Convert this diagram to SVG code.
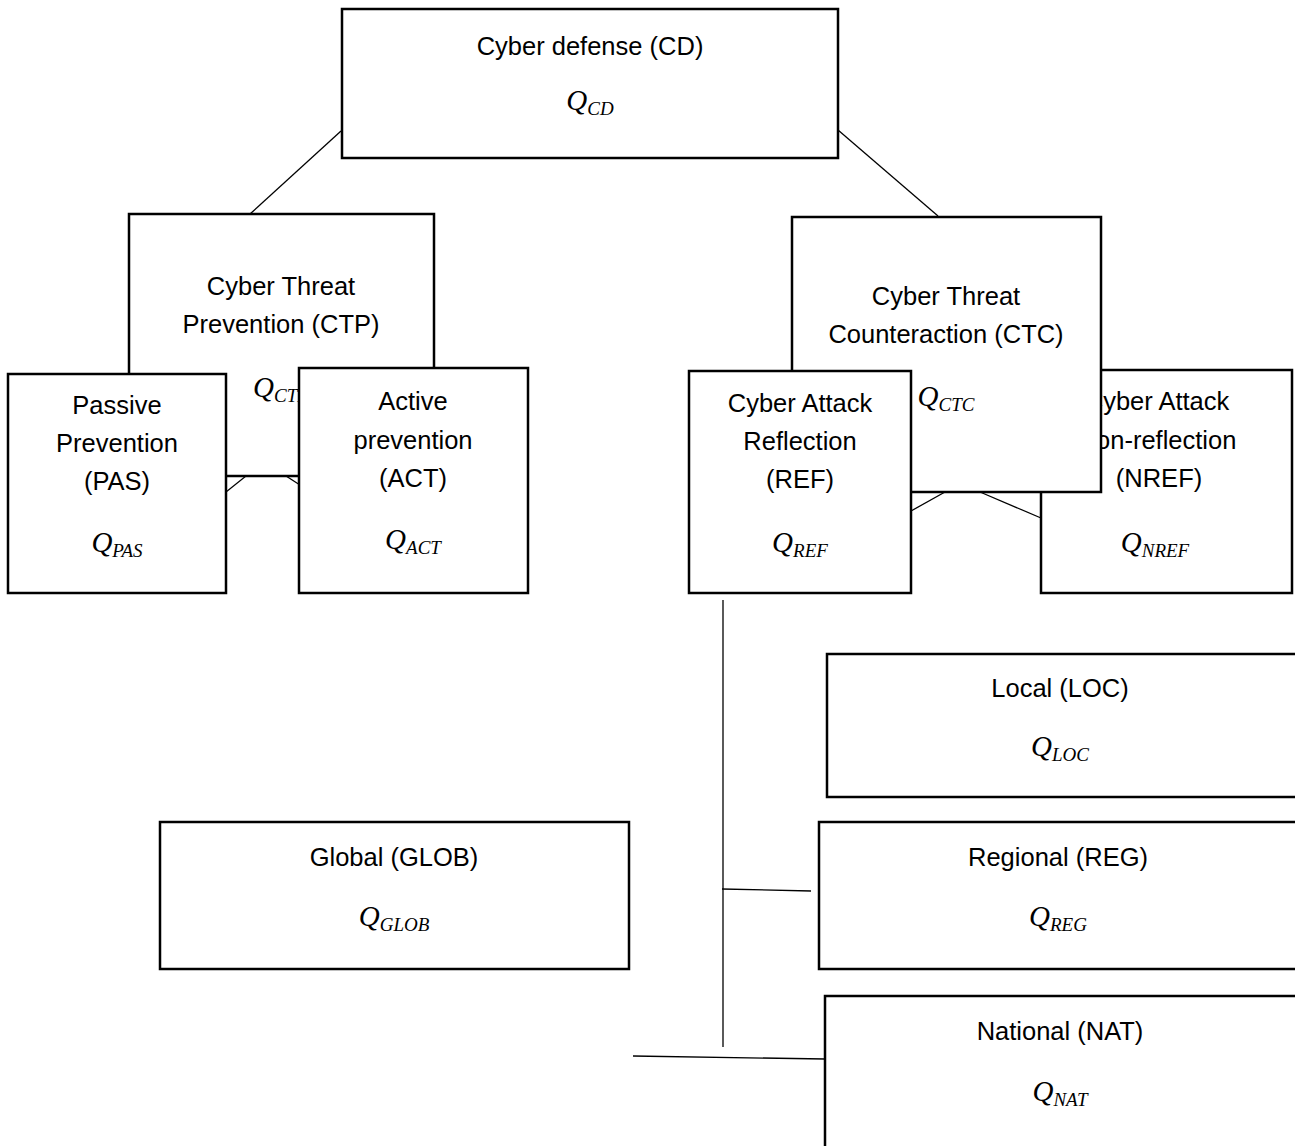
<svg xmlns="http://www.w3.org/2000/svg" width="1295" height="1146" viewBox="0 0 1295 1146">
<style>
.box{fill:#fff;stroke:#000;stroke-width:2.5}
.lbl{font-family:"Liberation Sans",Arial,sans-serif;font-size:25.5px;fill:#000;text-anchor:middle}
.q{font-family:"Liberation Serif","DejaVu Serif",serif;font-style:italic;font-size:29px;fill:#000;text-anchor:middle}
.s{font-size:19px}
.conn line{stroke:#000;stroke-width:1.3}
</style>
<rect width="1295" height="1146" fill="#fff"/>
<g id="connectors" class="conn">
<line x1="341" y1="131" x2="250" y2="214"/>
<line x1="838" y1="130" x2="938" y2="216"/>
<line x1="246" y1="476" x2="226" y2="492"/>
<line x1="286" y1="476" x2="300" y2="485"/>
<line x1="945" y1="492" x2="911" y2="511"/>
<line x1="980" y1="492" x2="1041" y2="518"/>
<line x1="723" y1="600" x2="723" y2="1047"/>
<line x1="722" y1="889" x2="811" y2="891"/>
<line x1="633" y1="1056" x2="825" y2="1059"/>
</g>
<g id="CD">
<rect class="box" x="342" y="9" width="496" height="149"/>
<text class="lbl" x="590" y="55">Cyber defense (CD)</text>
<text class="q" x="590" y="110">Q<tspan class="s" dy="5">CD</tspan></text>
</g>
<g id="CTP">
<rect class="box" x="129" y="214" width="305" height="262"/>
<text class="lbl" x="281" y="295">Cyber Threat</text>
<text class="lbl" x="281" y="333">Prevention (CTP)</text>
<text class="q" x="281" y="397">Q<tspan class="s" dy="5">CTP</tspan></text>
</g>
<g id="PAS">
<rect class="box" x="8" y="374" width="218" height="219"/>
<text class="lbl" x="117" y="414">Passive</text>
<text class="lbl" x="117" y="452">Prevention</text>
<text class="lbl" x="117" y="490">(PAS)</text>
<text class="q" x="117" y="552">Q<tspan class="s" dy="5">PAS</tspan></text>
</g>
<g id="ACT">
<rect class="box" x="299" y="368" width="229" height="225"/>
<text class="lbl" x="413" y="410">Active</text>
<text class="lbl" x="413" y="449">prevention</text>
<text class="lbl" x="413" y="487">(ACT)</text>
<text class="q" x="413" y="549">Q<tspan class="s" dy="5">ACT</tspan></text>
</g>
<g id="NREF">
<rect class="box" x="1041" y="370" width="251" height="223"/>
<text class="lbl" x="1157" y="410">Cyber Attack</text>
<text class="lbl" x="1157" y="449">Non-reflection</text>
<text class="lbl" x="1159" y="487">(NREF)</text>
<text class="q" x="1155" y="552">Q<tspan class="s" dy="5">NREF</tspan></text>
</g>
<g id="CTC">
<rect class="box" x="792" y="217" width="309" height="275"/>
<text class="lbl" x="946" y="305">Cyber Threat</text>
<text class="lbl" x="946" y="343">Counteraction (CTC)</text>
<text class="q" x="946" y="406">Q<tspan class="s" dy="5">CTC</tspan></text>
</g>
<g id="REF">
<rect class="box" x="689" y="371" width="222" height="222"/>
<text class="lbl" x="800" y="412">Cyber Attack</text>
<text class="lbl" x="800" y="450">Reflection</text>
<text class="lbl" x="800" y="488">(REF)</text>
<text class="q" x="800" y="552">Q<tspan class="s" dy="5">REF</tspan></text>
</g>
<g id="LOC">
<rect class="box" x="827" y="654" width="480" height="143"/>
<text class="lbl" x="1060" y="697">Local (LOC)</text>
<text class="q" x="1060" y="756">Q<tspan class="s" dy="5">LOC</tspan></text>
</g>
<g id="REG">
<rect class="box" x="819" y="822" width="488" height="147"/>
<text class="lbl" x="1058" y="866">Regional (REG)</text>
<text class="q" x="1058" y="926">Q<tspan class="s" dy="5">REG</tspan></text>
</g>
<g id="NAT">
<rect class="box" x="825" y="996" width="482" height="160"/>
<text class="lbl" x="1060" y="1040">National (NAT)</text>
<text class="q" x="1060" y="1101">Q<tspan class="s" dy="5">NAT</tspan></text>
</g>
<g id="GLOB">
<rect class="box" x="160" y="822" width="469" height="147"/>
<text class="lbl" x="394" y="866">Global (GLOB)</text>
<text class="q" x="394" y="926">Q<tspan class="s" dy="5">GLOB</tspan></text>
</g>
</svg>
